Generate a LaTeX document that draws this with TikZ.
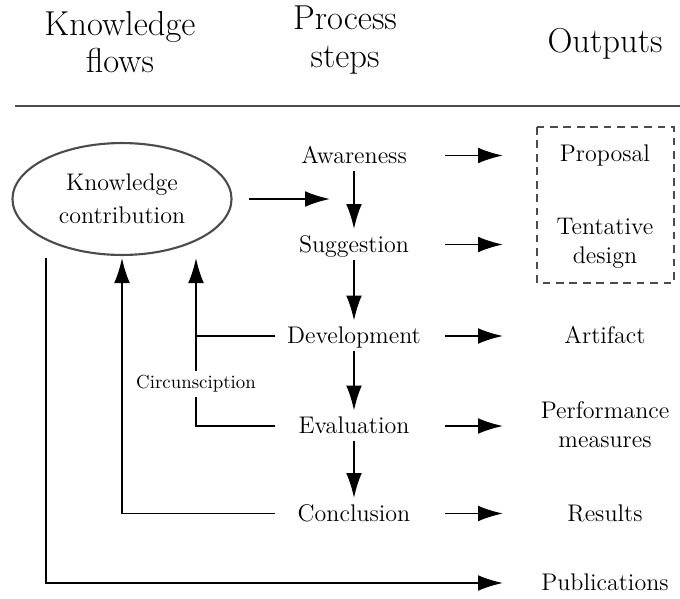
\documentclass[tikz,border=0pt]{standalone}
\usetikzlibrary{arrows.meta,shapes.geometric}
\begin{document}
\begin{tikzpicture}[x=0.52pt,y=-0.52pt,
  every node/.style={font=\fontsize{12.5}{15}\selectfont,align=center,inner sep=1.75pt},
  headtxt/.style={font=\fontsize{18}{19.5}\selectfont},
  stepnode/.style={text height=10pt,text depth=2.2pt,inner ysep=1.75pt},
  ln/.style={line width=1pt},
  arr/.style={line width=1pt,-{Latex[length=13pt,width=8.2pt]}},
  smalltxt/.style={font=\fontsize{9.8}{11}\selectfont,fill=white,inner ysep=2.1pt,inner xsep=1pt}]
\useasboundingbox (0,0) rectangle (680,598);

% column headings
\node[headtxt] (hkf) at (120,42) {Knowledge\\flows};
\node[headtxt] (hps) at (345,40) {Process\\steps};
\node[headtxt,anchor=base] (hout) at (605,53) {Outputs};
\draw[line width=0.9pt,draw=black!70] (15,106) -- (680,106);

% knowledge contribution
\node[ellipse,draw=black!70,line width=1.1pt,minimum width=113.9pt,minimum height=58.2pt,
      inner sep=0pt,font=\fontsize{12.5}{17.2}\selectfont] (kc) at (122,199) {Knowledge\\contribution};

% process steps
\node[stepnode] (aw)  at (354,155.5) {Awareness};
\node[stepnode] (sug) at (354,244.5) {Suggestion};
\node[stepnode] (dev) at (354,336)   {Development};
\node[stepnode] (ev)  at (354,426)   {Evaluation};
\node[stepnode] (con) at (354,513.5) {Conclusion};

% outputs
\node[stepnode] (prop) at (605,154) {Proposal};
\node (tent) at (605,243) {Tentative\\design};
\node[stepnode] (art) at (605,336) {Artifact};
\node (perf) at (605,424.5) {Performance\\measures};
\node[stepnode] (res) at (605,513.5) {Results};
\node[stepnode] (pub) at (605,583) {Publications};
\draw[draw=black!70,line width=0.8pt,dash pattern=on 4pt off 3pt] (537,127) rectangle (674,283);

% helper coordinates
\coordinate (a1) at (445,0);
\coordinate (a2) at (503,0);
\coordinate (lx) at (275,0);
\coordinate (c1) at (196,258);
\coordinate (c2) at (122,258);
\coordinate (c3) at (46,258);
\coordinate (kin) at (330,199);

% step sequence
\draw[arr] (aw) -- (sug);
\draw[arr] (sug) -- (dev);
\draw[arr] (dev) -- (ev);
\draw[arr] (ev) -- (con);
\draw[arr] ([xshift=8.3pt]kc.east) -- (kin);

% step outputs
\foreach \s in {aw,sug,dev,ev,con}
  \draw[arr] (\s -| a1) -- (\s -| a2);
\draw[arr] (c3) |- (pub -| a2);

% knowledge flows back
\draw[arr] (dev -| lx) -| (c1);
\draw[ln] (ev -| lx) -| (dev -| c1);
\draw[arr] (con -| lx) -| (c2);
\node[smalltxt] (circ) at (196,384) {Circunsciption};
\end{tikzpicture}
\end{document}
